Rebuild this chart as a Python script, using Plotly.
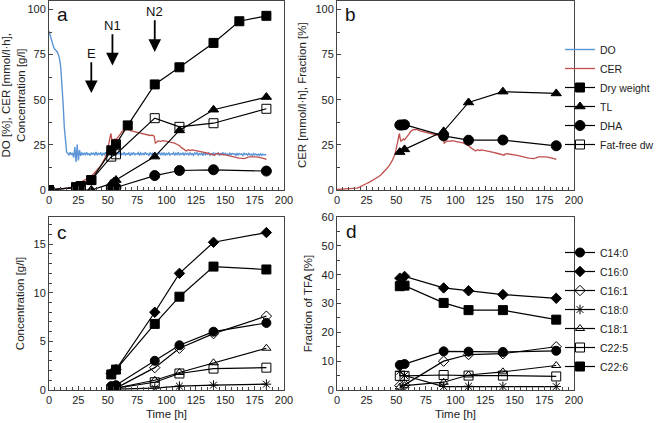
import plotly.graph_objects as go

# ---- panel a/b: online data
do_t = list(range(186))
do_v = [88.0, 85.5, 83.0, 80.5, 79.0, 78.0, 77.2, 76.5, 75.0, 72.5, 68.0, 60.0, 48.0, 35.0, 25.5,
        21.0, 20.3, 19.2, 20.9, 19.5, 20.6, 18.0, 23.8, 15.6, 25.2, 16.4, 22.1, 18.9, 20.8, 19.4,
        20.6, 19.3, 20.9, 19.6, 20.2, 19.1, 20.7, 19.8, 20.4, 19.2, 21.0, 19.5, 20.3, 19.7, 20.8,
        19.0, 20.5, 19.6, 20.9, 19.4, 20.2, 19.8, 20.6, 19.1, 20.4, 19.7, 21.1, 19.3, 20.5, 19.9,
        20.7, 19.2, 20.3, 19.6, 20.9, 19.4, 20.1, 19.8, 20.6, 19.0, 20.4, 19.7, 20.8, 19.3, 20.2,
        19.9, 20.7, 19.1, 20.5, 19.6, 20.3, 19.4, 20.9, 19.8, 20.1, 19.2, 20.6, 19.7, 20.4, 19.0,
        21.0, 19.5, 20.2, 19.8, 20.7, 19.3, 20.5, 19.6, 20.8, 19.1, 20.3, 19.7, 20.6, 19.4, 20.1,
        19.9, 20.7, 19.2, 20.4, 19.6, 20.9, 19.3, 20.2, 19.8, 20.5, 19.1, 20.6, 19.7, 20.3, 19.4,
        20.8, 19.6, 20.1, 19.2, 20.5, 19.8, 20.7, 19.3, 20.2, 19.7, 20.4, 19.0, 20.9, 19.5, 20.3,
        19.8, 20.6, 19.2, 20.1, 19.6, 20.7, 19.4, 20.3, 19.9, 20.5, 19.1, 20.2, 19.7, 20.8, 19.3,
        20.4, 19.6, 20.0, 19.2, 20.6, 19.5, 20.3, 19.8, 20.1, 19.0, 20.5, 19.4, 20.2, 19.7, 20.0,
        19.1, 20.4, 19.6, 20.1, 19.3, 20.3, 19.5, 19.9, 19.0, 20.2, 19.4, 20.0, 19.3, 19.8, 19.1,
        20.1, 19.2, 19.9, 19.4, 19.7, 19.3]

cer_t = [0, 3, 6, 9, 12, 15, 17, 19, 21, 23, 25, 27, 29, 31, 33, 35, 37, 39, 41, 43, 45, 47, 49,
         50, 51, 52, 52.7, 53.3, 54, 55, 56, 57, 58, 59, 60, 61, 62, 63, 64, 65, 66, 67, 68, 69,
         70, 72, 74, 76, 78, 80, 82, 84, 86, 88, 89.5, 90, 90.5, 91.5, 93, 95, 97, 99, 101, 103,
         105, 107, 109, 111, 112.5, 114, 115.5, 117, 118.5, 120, 122, 124, 126, 128, 130, 132,
         134, 136, 138, 140, 141, 142, 144, 146, 148, 150, 152, 154, 156, 158, 160, 162, 164,
         166, 168, 170, 172, 174, 176, 178, 180, 182, 184, 185]
cer_v = [0.3, 0.4, 0.5, 0.5, 0.6, 0.8, 1.0, 1.6, 2.4, 3.1, 3.6, 4.2, 4.9, 5.6, 6.4, 7.3, 8.3, 9.6,
         11.0, 12.6, 14.5, 16.8, 20.0, 22.5, 26.0, 29.5, 31.3, 28.5, 27.0, 27.5, 28.3, 27.8, 28.6,
         29.0, 30.0, 31.2, 32.3, 33.0, 33.3, 33.6, 33.4, 33.7, 33.2, 33.0, 32.8, 32.5, 31.9, 31.8,
         31.2, 31.0, 30.6, 30.5, 30.2, 30.4, 29.8, 28.0, 26.0, 26.5, 27.2, 27.0, 27.4, 27.1, 26.8,
         26.2, 25.9, 26.0, 25.2, 24.6, 23.6, 23.0, 22.1, 21.6, 22.3, 21.9, 22.2, 22.0, 21.7, 21.5,
         21.2, 20.8, 20.5, 20.1, 19.9, 19.6, 19.3, 20.0, 20.2, 19.8, 19.8, 19.5, 19.2, 19.0, 18.7,
         18.4, 18.0, 17.7, 17.4, 17.4, 17.8, 18.3, 18.3, 18.5, 18.4, 18.2, 18.0, 17.6, 17.2, 16.8]

# ---- panel a: offline samples
dw_t = [0, 23, 27, 36, 53, 57, 67, 90, 111, 140, 162, 185]
dw_v = [0, 1.5, 2.2, 5.5, 22.0, 25.3, 35.8, 58.5, 68.0, 81.5, 93.5, 96.5]
ffdw_t = [0, 23, 27, 36, 53, 57, 90, 111, 140, 185]
ffdw_v = [0, 1.5, 2.2, 5.5, 18.5, 19.8, 39.8, 35.0, 37.0, 45.0]
tl_t = [27, 36, 53, 55, 57, 90, 111, 140, 185]
tl_v = [0, 0, 3.5, 4.5, 5.5, 18.5, 33.0, 44.5, 51.5]
dha_t = [53, 55, 57, 90, 111, 140, 185]
dha_v = [1.0, 1.6, 1.4, 8.0, 10.8, 11.2, 10.5]

# ---- panel b: fractions
tlf_t = [53, 57, 90, 111, 140, 185]
tlf_v = [21.0, 22.5, 32.5, 48.5, 54.5, 53.5]
dhaf_t = [53, 55, 57, 90, 111, 140, 185]
dhaf_v = [36.0, 36.0, 36.2, 30.0, 27.6, 27.7, 24.5]

# ---- panel c/d: fatty acids
fa_t = [53, 57, 90, 111, 140, 185]
fa_names = ['C14:0', 'C16:0', 'C16:1', 'C18:0', 'C18:1', 'C22:5', 'C22:6']
fa_conc = {
    'C14:0': [0.4, 0.5, 3.0, 4.6, 6.0, 6.9],
    'C16:0': [1.7, 2.1, 8.0, 12.0, 15.2, 16.2],
    'C16:1': [0.1, 0.2, 2.3, 4.3, 5.8, 7.6],
    'C18:0': [0.05, 0.1, 0.2, 0.4, 0.5, 0.6],
    'C18:1': [0.1, 0.2, 1.0, 1.8, 2.8, 4.3],
    'C22:5': [0.1, 0.2, 0.8, 1.7, 2.2, 2.3],
    'C22:6': [1.6, 2.1, 6.8, 9.6, 12.7, 12.4],
}
fa_frac = {
    'C14:0': [8.7, 9.0, 13.4, 13.3, 13.2, 13.6],
    'C16:0': [38.8, 39.4, 35.4, 34.4, 33.1, 31.8],
    'C16:1': [1.5, 1.8, 10.0, 12.3, 12.6, 15.0],
    'C18:0': [6.5, 5.0, 1.2, 1.3, 1.2, 1.2],
    'C18:1': [1.0, 1.5, 2.7, 5.2, 6.3, 8.5],
    'C22:5': [4.9, 4.9, 5.2, 5.0, 5.0, 4.7],
    'C22:6': [36.0, 36.2, 30.2, 27.7, 27.7, 24.4],
}
fa_symbol = {'C14:0': ('circle', 9), 'C16:0': ('diamond', 8), 'C16:1': ('diamond-open', 8),
             'C18:0': ('asterisk-open', 8), 'C18:1': ('triangle-up-open', 8),
             'C22:5': ('square-open', 9), 'C22:6': ('square', 9)}

W, H = 658, 423
FONT = 'Liberation Sans, Arial, sans-serif'
BLUE = '#5b95d6'
RED = '#c0504d'
LW = 1.2

fig = go.Figure()


def pts(x, y, name, symbol, size, xa, ya, legend='legend', show=True, rank=None):
    fig.add_trace(go.Scatter(
        x=x, y=y, name=name, mode='lines+markers', xaxis=xa, yaxis=ya,
        line=dict(color='black', width=LW),
        marker=dict(symbol=symbol, size=size, color='black',
                    line=dict(color='black', width=1)),
        legend=legend, showlegend=show, legendrank=rank))


# panel a
fig.add_trace(go.Scatter(x=do_t, y=do_v, name='DO', mode='lines', xaxis='x', yaxis='y',
                         line=dict(color=BLUE, width=1.4), legendrank=1))
fig.add_trace(go.Scatter(x=cer_t, y=cer_v, name='CER', mode='lines', xaxis='x', yaxis='y',
                         line=dict(color=RED, width=1.3), legendrank=2))
pts(ffdw_t, ffdw_v, 'Fat-free dw', 'square-open', 9, 'x', 'y', rank=6)
pts(dw_t, dw_v, 'Dry weight', 'square', 9, 'x', 'y', rank=3)
pts(tl_t, tl_v, 'TL', 'triangle-up', 9, 'x', 'y', rank=4)
pts(dha_t, dha_v, 'DHA', 'circle', 10, 'x', 'y', rank=5)

# panel b
fig.add_trace(go.Scatter(x=cer_t, y=cer_v, mode='lines', xaxis='x2', yaxis='y2',
                         line=dict(color=RED, width=1.3), showlegend=False))
pts(tlf_t, tlf_v, 'TL', 'triangle-up', 9, 'x2', 'y2', show=False)
pts(dhaf_t, dhaf_v, 'DHA', 'circle', 10, 'x2', 'y2', show=False)

# panels c and d
for i, n in enumerate(fa_names):
    sym, sz = fa_symbol[n]
    pts(fa_t, fa_conc[n], n, sym, sz, 'x3', 'y3', legend='legend2', rank=i + 1)
    pts(fa_t, fa_frac[n], n, sym, sz, 'x4', 'y4', legend='legend2', show=False)

xa_dom = [49 / W, 284 / W]
xb_dom = [337 / W, 574 / W]
top_dom = [1 - 190 / H, 1 - 0.5 / H]
bot_dom = [1 - 390 / H, 1 - 217 / H]

tickfont = dict(family=FONT, size=11, color='#222')
titlefont = dict(family=FONT, size=11.5, color='#222')


def xax(dom, anchor, title=None):
    return dict(domain=dom, anchor=anchor, range=[0, 200], dtick=25, ticks='inside',
                ticklen=4, tickcolor='#444', showline=True, linecolor='#444', linewidth=1,
                mirror=True, showgrid=False, zeroline=False, tickfont=tickfont,
                automargin=False,
                minor=dict(dtick=5, ticks='inside', ticklen=3, tickcolor='#444'),
                title=dict(text=title, font=titlefont, standoff=4) if title else None)


def yax(dom, anchor, rng, dtick, minor, title):
    return dict(domain=dom, anchor=anchor, range=rng, dtick=dtick, ticks='inside',
                ticklen=4, tickcolor='#444', showline=True, linecolor='#444', linewidth=1,
                mirror=True, showgrid=False, zeroline=False, tickfont=tickfont,
                automargin=False,
                minor=dict(dtick=minor, ticks='inside', ticklen=3, tickcolor='#444'),
                title=dict(text=title, font=titlefont, standoff=6))


legend_common = dict(xanchor='left', yanchor='top', bgcolor='rgba(0,0,0,0)',
                     font=dict(family=FONT, size=10.5, color='#222'), itemwidth=30,
                     tracegroupgap=0)

fig.update_layout(
    width=W, height=H, margin=dict(l=0, r=0, t=0, b=0, autoexpand=False),
    paper_bgcolor='white', plot_bgcolor='white',
    font=dict(family=FONT, color='#222'),
    xaxis=xax(xa_dom, 'y'),
    yaxis=yax(top_dom, 'x', [0, 105], 25, 12.5,
              'DO [%], CER [mmol/l·h],<br>Concentration [g/l]'),
    xaxis2=xax(xb_dom, 'y2'),
    yaxis2=yax(top_dom, 'x2', [0, 105], 25, 12.5, 'CER [mmol/l·h], Fraction [%]'),
    xaxis3=xax(xa_dom, 'y3', 'Time [h]'),
    yaxis3=yax(bot_dom, 'x3', [0, 17.8], 5, 1, 'Concentration [g/l]'),
    xaxis4=xax(xb_dom, 'y4', 'Time [h]'),
    yaxis4=yax(bot_dom, 'x4', [0, 60], 10, 5, 'Fraction of TFA [%]'),
    legend=dict(x=560 / W, y=1 - 35 / H, **legend_common),
    legend2=dict(x=560 / W, y=1 - 238 / H, **legend_common),
)

# panel letters
for txt, xp, yp in [('a', 62, 14), ('b', 350, 14), ('c', 62, 232), ('d', 351, 231)]:
    fig.add_annotation(text=txt, x=xp / W, y=1 - yp / H, xref='paper', yref='paper',
                       showarrow=False, xanchor='center', yanchor='middle',
                       font=dict(family=FONT, size=19, color='#111'))

# feeding arrows
for txt, xt, tip, tail in [('E', 36, 53.7, 75.8), ('N1', 54, 69, 91.3), ('N2', 90, 76.5, 99)]:
    fig.add_annotation(text=txt, x=xt, y=tip, ax=xt, ay=tail, xref='x', yref='y',
                       axref='x', ayref='y', showarrow=True, arrowhead=2, arrowsize=1.4,
                       arrowwidth=1.8, arrowcolor='black', standoff=0,
                       font=dict(family=FONT, size=13, color='#111'))

# drop the default page margin so the figure fills the window
fig.write_html("out.html", config={'displayModeBar': False},
               post_script="document.body.style.margin='0';document.body.style.overflow='hidden';")
